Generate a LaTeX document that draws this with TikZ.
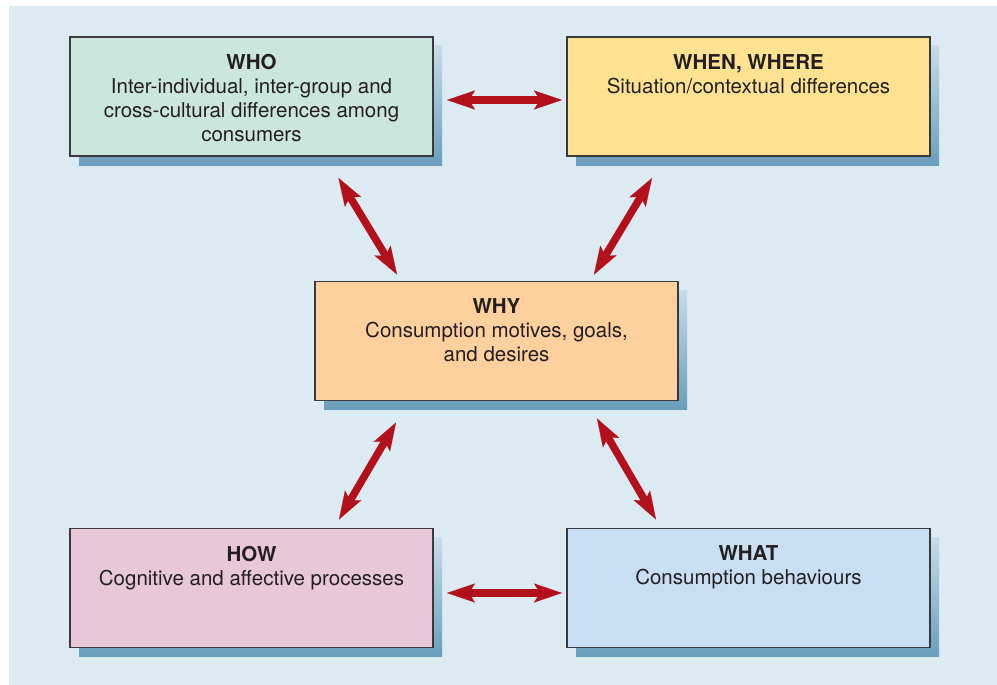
\documentclass[tikz,border=0pt]{standalone}
\usepackage{fontspec}
\setmainfont{TeX Gyre Heros}
\usetikzlibrary{arrows.meta,backgrounds}
\definecolor{panel}{RGB}{220,234,242}
\definecolor{whofill}{RGB}{203,230,220}
\definecolor{whenfill}{RGB}{254,226,146}
\definecolor{whyfill}{RGB}{254,208,158}
\definecolor{howfill}{RGB}{232,200,216}
\definecolor{whatfill}{RGB}{200,222,242}
\definecolor{boxline}{RGB}{58,58,60}
\definecolor{txt}{RGB}{35,31,32}
\definecolor{arrowred}{RGB}{178,16,26}
\definecolor{shtop}{RGB}{198,220,232}
\definecolor{shbot}{RGB}{106,158,188}
\begin{document}
\begin{tikzpicture}[x=1pt,y=-1pt,
  box/.style={draw=boxline, line width=1.5pt, outer sep=0pt, inner xsep=6.5pt, inner ysep=17.5pt,
    font=\fontsize{20.5}{24}\selectfont, text=txt},
  tipx/.tip={Stealth[length=28pt,width=19pt,inset=6pt,line width=0.1pt]},
  dbl/.style={draw=arrowred, fill=arrowred, line width=7.5pt, tipx-tipx},
  shadowbox/.style={top color=shtop, bottom color=shbot, draw=none}]
\useasboundingbox (0,0) rectangle (997,685);
\newcommand{\boxtext}[2]{\parbox[c][84pt][t]{350pt}{\centering\textbf{#1}\\#2}}
\node[box, fill=whofill] (who) at (251.5,96.5)
  {\boxtext{WHO}{Inter-individual, inter-group and\\cross-cultural differences among\\consumers}};
\node[box, fill=whenfill] (when) at (748.5,96.5)
  {\boxtext{WHEN, WHERE}{Situation/contextual differences}};
\node[box, fill=whyfill] (why) at (496.5,341)
  {\boxtext{WHY}{Consumption motives, goals,\\and desires}};
\node[box, fill=howfill] (how) at (251.5,588)
  {\boxtext{HOW}{Cognitive and affective processes}};
\node[box, fill=whatfill] (what) at (748.5,588)
  {\boxtext{WHAT}{Consumption behaviours}};
\begin{scope}[on background layer]
  \fill[panel] (9,6) rectangle (997,685);
  \foreach \n in {who,when,why,how,what}
    \shade[shadowbox] ([shift={(9,9)}]\n.north west) rectangle ([shift={(9,9)}]\n.south east);
\end{scope}
\draw[dbl] ([shift={(14,3.5)}]who.east) -- ([shift={(-5,3.5)}]when.west);
\draw[dbl] ([shift={(14,5)}]how.east) -- ([shift={(-5,5)}]what.west);
\draw[dbl] ([shift={(87,22)}]who.south) -- ([shift={(-99.5,-7)}]why.north);
\draw[dbl] ([shift={(-96.5,22)}]when.south) -- ([shift={(97.5,-7)}]why.north);
\draw[dbl] ([shift={(-100.5,22)}]why.south) -- ([shift={(87.5,-9)}]how.north);
\draw[dbl] ([shift={(100.5,18)}]why.south) -- ([shift={(-92.5,-9)}]what.north);
\end{tikzpicture}
\end{document}
